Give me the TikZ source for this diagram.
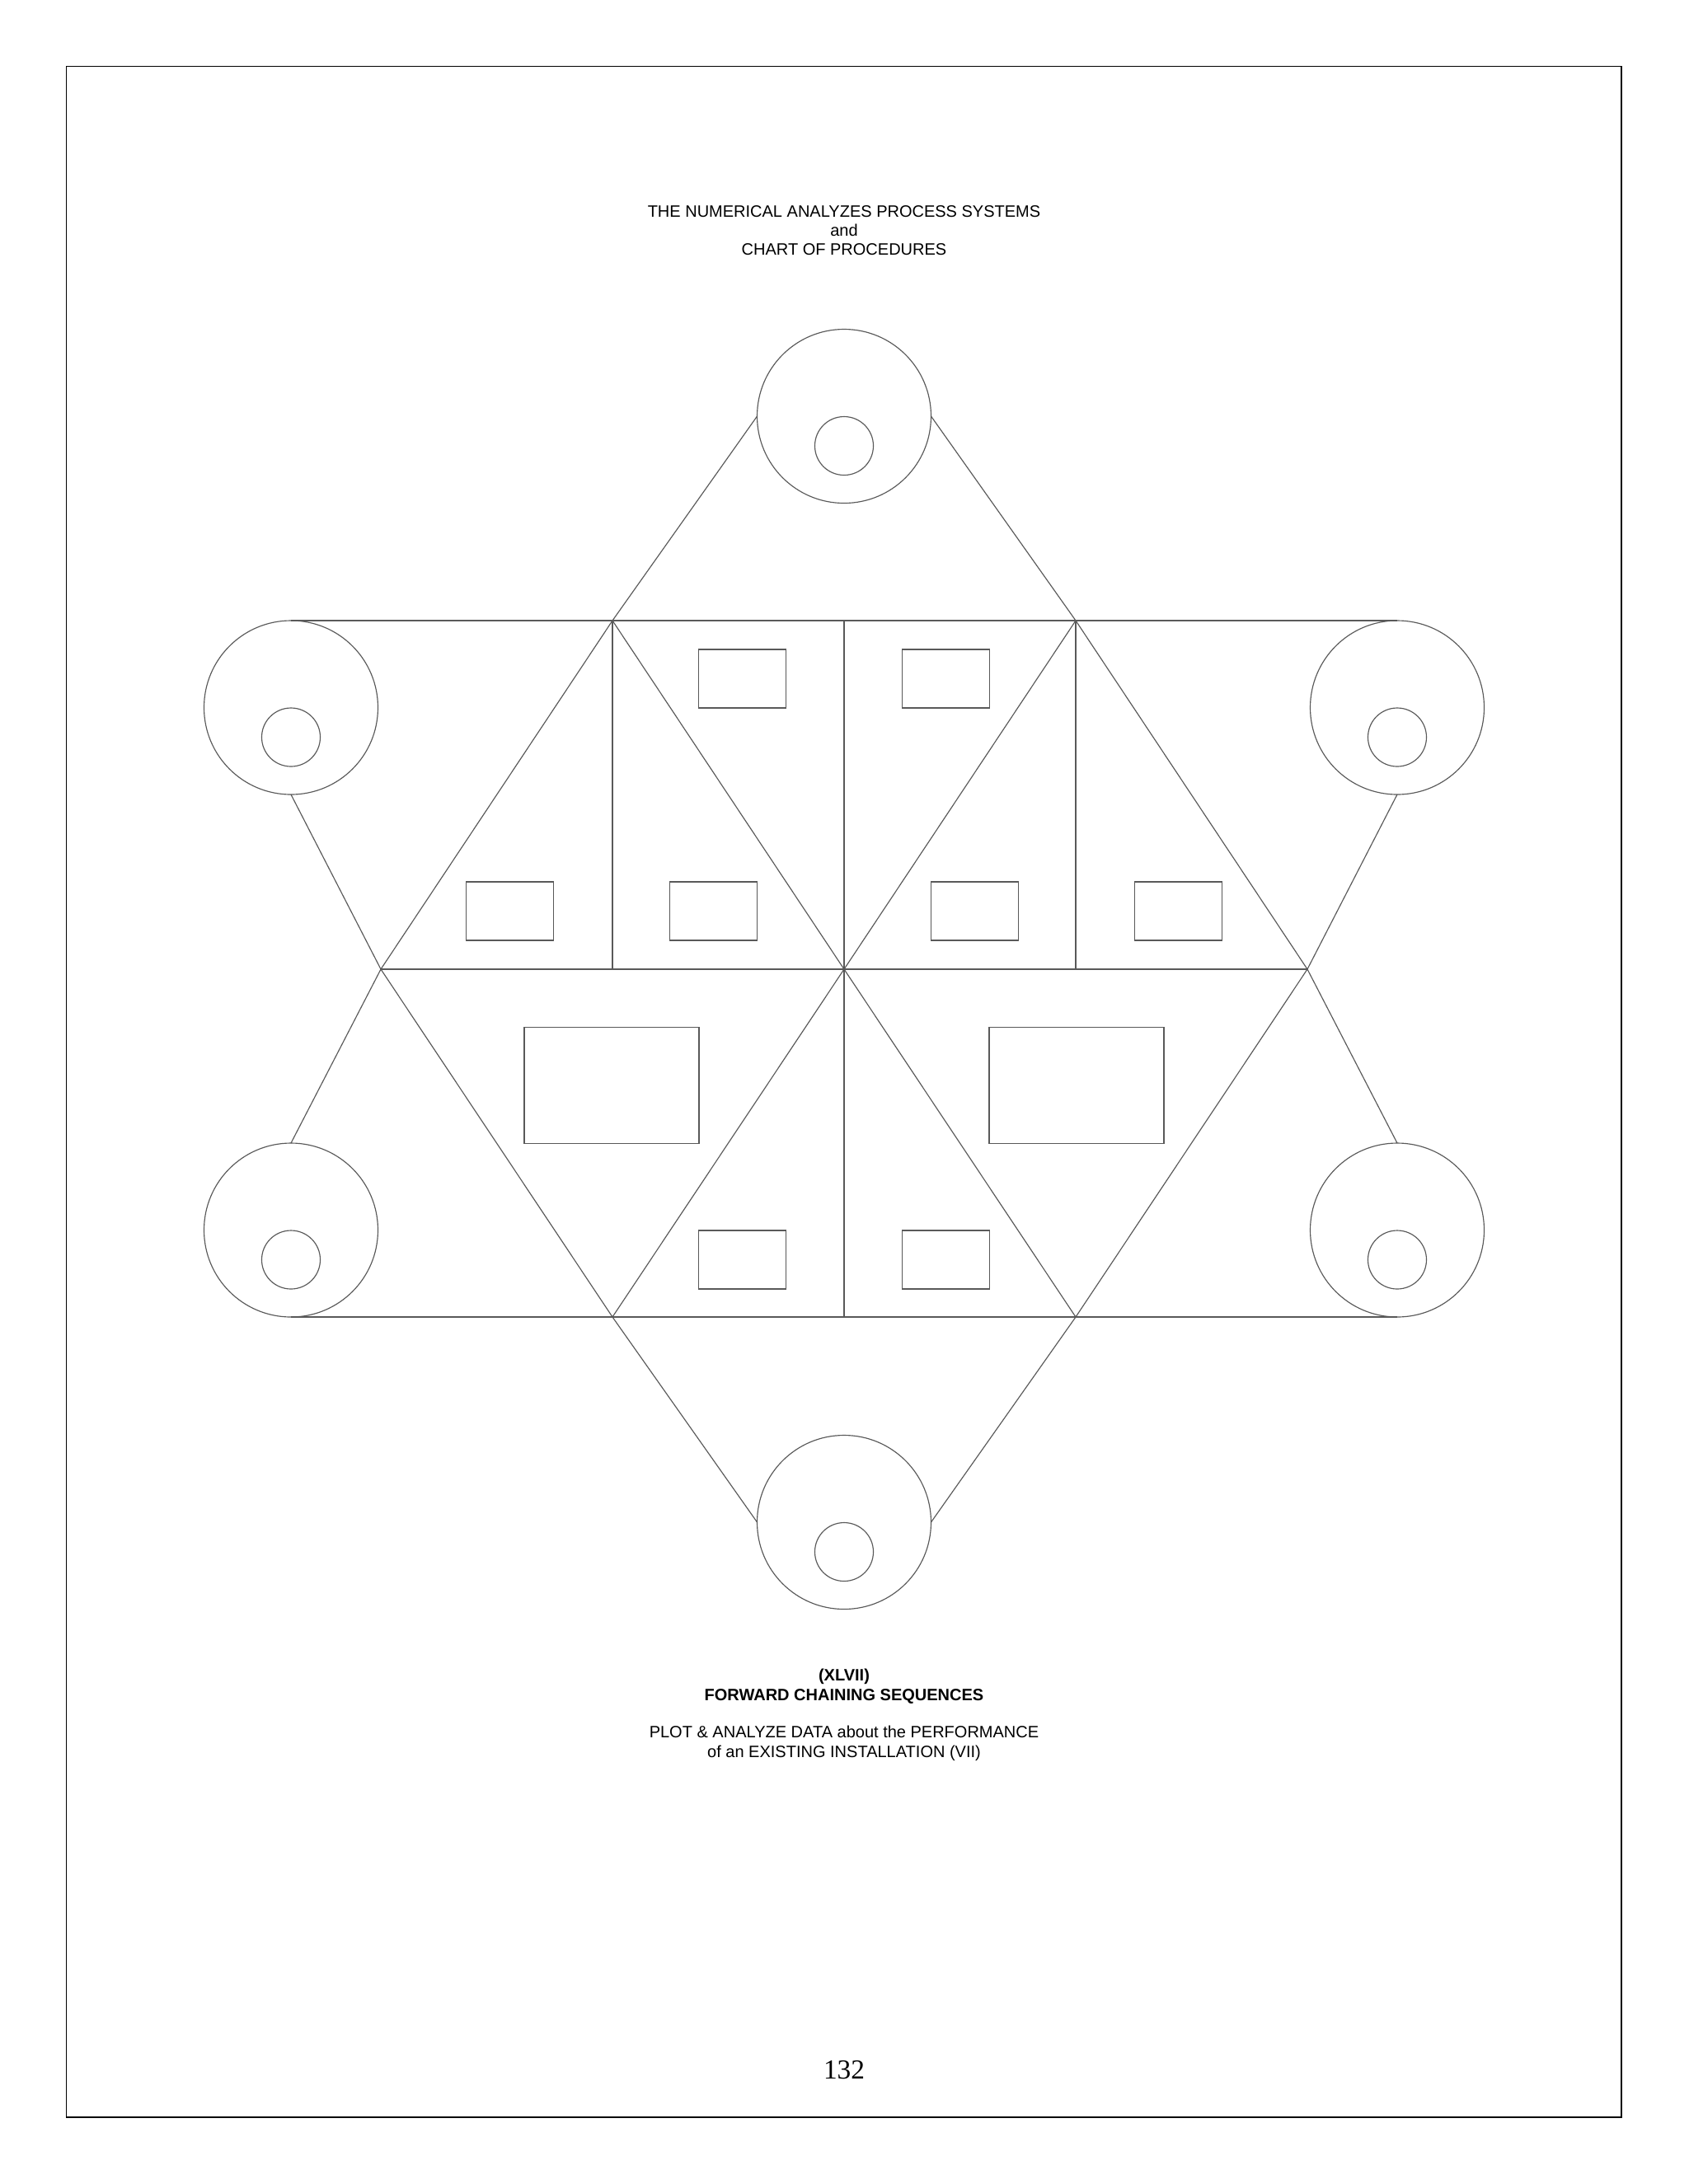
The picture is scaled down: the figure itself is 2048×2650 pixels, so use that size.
\documentclass[tikz,border=0pt]{standalone}
\usepackage{fontspec}
\setmainfont{Liberation Serif}
\newfontfamily\arialfont{Liberation Sans}
\usetikzlibrary{calc}

\def\px{0.298828bp}
\def\R{105.5}
\def\hubr{35.5}
\def\drop{36}

\tikzset{
  edge/.style={draw=black!65, line width=.35pt},
  wheel/.style={edge, circle, inner sep=0pt, outer sep=0pt, minimum size=2*\R*\px},
  hub/.style={edge, circle, inner sep=0pt, outer sep=0pt, minimum size=2*\hubr*\px},
  cell/.style={edge, inner sep=0pt, outer sep=0pt, minimum width=106*\px, minimum height=71*\px},
  bigcell/.style={cell, minimum width=212*\px, minimum height=141*\px},
  caption/.style={font=\arialfont\fontsize{6}{7}\selectfont, align=center, inner sep=0pt, anchor=north}
}

\begin{document}
\begin{tikzpicture}[x=\px, y=-\px]
\useasboundingbox (0,0) rectangle (2048,2650);

% page frame
\draw[line width=.5pt] (80.5,80.5) rectangle (1967,2569);

%% hexagon corners
\coordinate (c) at (1024,1176);
\coordinate (tl) at (743,753);
\coordinate (tr) at (1305,753);
\coordinate (l) at (462,1176);
\coordinate (r) at (1586,1176);
\coordinate (bl) at (743,1598);
\coordinate (br) at (1305,1598);

% wheels with their hubs (hub sits a little below the centre)
\foreach \name/\x/\y in {top/1024/505, ul/353/858.5, ur/1695/858.5, ll/353/1492.5, lr/1695/1492.5, bot/1024/1847}
  {
  \node[wheel] (\name) at (\x,\y) {};
  \node[hub] (\name-hub) at ($(\name)+(0,\drop)$) {};
  }

% belts between the wheels
\draw[edge] (ul.north) -- (ur.north);
\draw[edge] (ll.south) -- (lr.south);
\draw[edge] (top.west) -- (tl) -- (l) -- (bl) -- (bot.west);
\draw[edge] (top.east) -- (tr) -- (r) -- (br) -- (bot.east);
\draw[edge] (ul.south) -- (l) -- (ll.north);
\draw[edge] (ur.south) -- (r) -- (lr.north);

% inner triangles
\draw[edge] (l) -- (r);
\draw[edge] (tl) -- (c) -- (tr);
\draw[edge] (bl) -- (c) -- (br);
\draw[edge] (tl) -- (tl |- c);
\draw[edge] (tr) -- (tr |- c);
\draw[edge] (c |- tl) -- (c |- bl);

% boxes
\foreach \name/\x/\y in {t1/900.5/823.5, t2/1147.5/823.5, m1/618.5/1105.5, m2/865.5/1105.5, m3/1182.5/1105.5, m4/1429.5/1105.5, b1/900.5/1528.5, b2/1147.5/1528.5}
  {
  \node[cell] (\name) at (\x,\y) {};
  }
\node[bigcell] (big1) at (742,1317) {};
\node[bigcell] (big2) at (1306,1317) {};

% texts
\node[caption] (title) at (1024,248.6) {THE NUMERICAL ANALYZES PROCESS SYSTEMS\\and\\CHART OF PROCEDURES};
\node[caption, font=\arialfont\bfseries\fontsize{6}{7}\selectfont] (heading) at (1024,2024.5) {(XLVII)\\FORWARD CHAINING SEQUENCES};
\node[caption] (subtitle) at (1024,2093.5) {PLOT \& ANALYZE DATA about the PERFORMANCE\\of an EXISTING INSTALLATION (VII)};
\node[font=\fontsize{10}{12}\selectfont, inner sep=0pt, anchor=base] (pagenum) at (1024,2522) {132};

\end{tikzpicture}
\end{document}
